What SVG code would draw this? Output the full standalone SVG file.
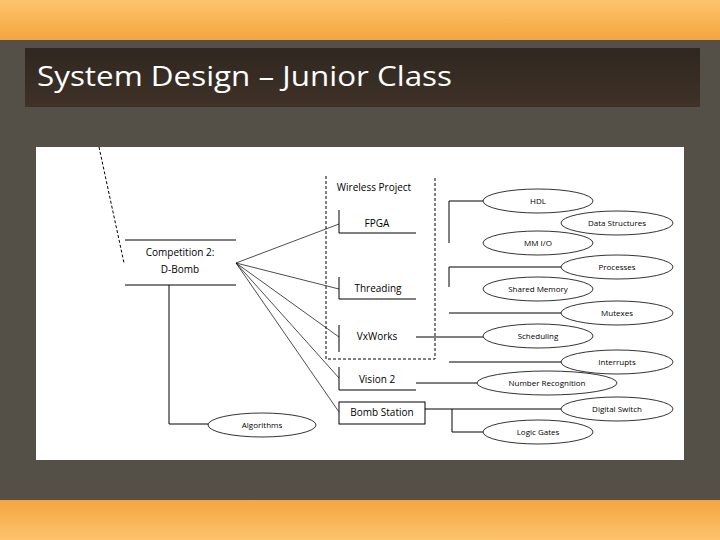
<svg xmlns="http://www.w3.org/2000/svg" width="720" height="540" viewBox="0 0 720 540">
<defs>
<linearGradient id="top" x1="0" y1="0" x2="0" y2="1"><stop offset="0" stop-color="#fdc46e"/><stop offset="1" stop-color="#f4a53f"/></linearGradient>
<linearGradient id="bot" x1="0" y1="0" x2="0" y2="1"><stop offset="0" stop-color="#f4a53f"/><stop offset="1" stop-color="#fdc46e"/></linearGradient>
<linearGradient id="bar" x1="0" y1="0" x2="0" y2="1"><stop offset="0" stop-color="#2f2720"/><stop offset="1" stop-color="#3f3227"/></linearGradient>
<style>
.l{stroke:#000;stroke-width:1;fill:none}
.t{stroke:#000;stroke-width:0.7;fill:none}
.d{stroke:#000;stroke-width:1;fill:none;stroke-dasharray:3,2}
.e{fill:#fff;stroke:#000;stroke-width:0.8}
.bx{font-family:"Open Sans","DejaVu Sans",sans-serif;font-size:10px;text-anchor:middle;fill:#000}
.el{font-family:"Open Sans","DejaVu Sans",sans-serif;font-size:8px;text-anchor:middle;fill:#000}
</style>
</defs>
<rect x="0" y="0" width="720" height="540" fill="#545048"/>
<rect x="0" y="0" width="720" height="40" fill="url(#top)"/>
<rect x="0" y="500" width="720" height="40" fill="url(#bot)"/>
<rect x="25" y="48" width="675" height="59" fill="url(#bar)"/>
<text x="37" y="86" font-family="Open Sans, DejaVu Sans, sans-serif" font-size="28" fill="#fff" textLength="415" lengthAdjust="spacingAndGlyphs">System Design – Junior Class</text>
<rect x="36" y="147" width="648" height="313" fill="#fff"/>

<g id="connectors">
<path class="d" d="M99,147 L124,263"/>
<path class="t" d="M236,263 L339,224 M236,263 L339,289 M236,263 L339,337 M236,263 L339,378 M236,263 L339,412"/>
<path class="l" d="M169,285 V424 H208"/>
<path class="d" d="M326,176 V359 H435 V176"/>
<path class="l" d="M416,337 H485 M416,383 H477 M425,409 H563 M452,409 V432 H483"/>
<path class="l" d="M449,243 V201 H483 M449,287 V267 H563 M449,313 H563 M449,362 H563"/>
</g>

<g id="competition"><path class="l" d="M125,240 H236 M125,285 H236"/><text class="bx" x="180" y="256">Competition 2:</text><text class="bx" x="180" y="273">D-Bomb</text></g>
<g id="wireless"><text class="bx" x="374" y="191">Wireless Project</text></g>
<g id="fpga"><path class="l" d="M339,210 V233 H416"/><text class="bx" x="377" y="227">FPGA</text></g>
<g id="threading"><path class="l" d="M339,277 V299 H416"/><text class="bx" x="378" y="292">Threading</text></g>
<g id="vxworks"><path class="l" d="M339,325 V352"/><text class="bx" x="377" y="340">VxWorks</text></g>
<g id="vision"><path class="l" d="M339,367 V390 H416"/><text class="bx" x="377" y="383">Vision 2</text></g>
<g id="bomb"><rect class="l" x="339" y="402" width="86" height="22"/><text class="bx" x="382" y="416">Bomb Station</text></g>
<g id="algorithms"><ellipse class="e" cx="262" cy="425" rx="54" ry="12"/><text class="el" x="262" y="428">Algorithms</text></g>
<g id="hdl"><ellipse class="e" cx="538" cy="201" rx="55" ry="12"/><text class="el" x="538" y="204">HDL</text></g>
<g id="ds"><ellipse class="e" cx="617" cy="223" rx="56" ry="12"/><text class="el" x="617" y="226">Data Structures</text></g>
<g id="mmio"><ellipse class="e" cx="538" cy="243" rx="55" ry="12"/><text class="el" x="538" y="246">MM I/O</text></g>
<g id="processes"><ellipse class="e" cx="617" cy="267" rx="56" ry="12"/><text class="el" x="617" y="270">Processes</text></g>
<g id="shm"><ellipse class="e" cx="538" cy="289" rx="55" ry="12"/><text class="el" x="538" y="292">Shared Memory</text></g>
<g id="mutexes"><ellipse class="e" cx="617" cy="313" rx="56" ry="12"/><text class="el" x="617" y="316">Mutexes</text></g>
<g id="sched"><ellipse class="e" cx="538" cy="336" rx="55" ry="12"/><text class="el" x="538" y="339">Scheduling</text></g>
<g id="interrupts"><ellipse class="e" cx="617" cy="362" rx="56" ry="12"/><text class="el" x="617" y="365">Interrupts</text></g>
<g id="numrec"><ellipse class="e" cx="547" cy="383" rx="70" ry="12"/><text class="el" x="547" y="386">Number Recognition</text></g>
<g id="dswitch"><ellipse class="e" cx="617" cy="409" rx="56" ry="12"/><text class="el" x="617" y="412">Digital Switch</text></g>
<g id="logic"><ellipse class="e" cx="538" cy="432" rx="55" ry="12"/><text class="el" x="538" y="435">Logic Gates</text></g>
</svg>
